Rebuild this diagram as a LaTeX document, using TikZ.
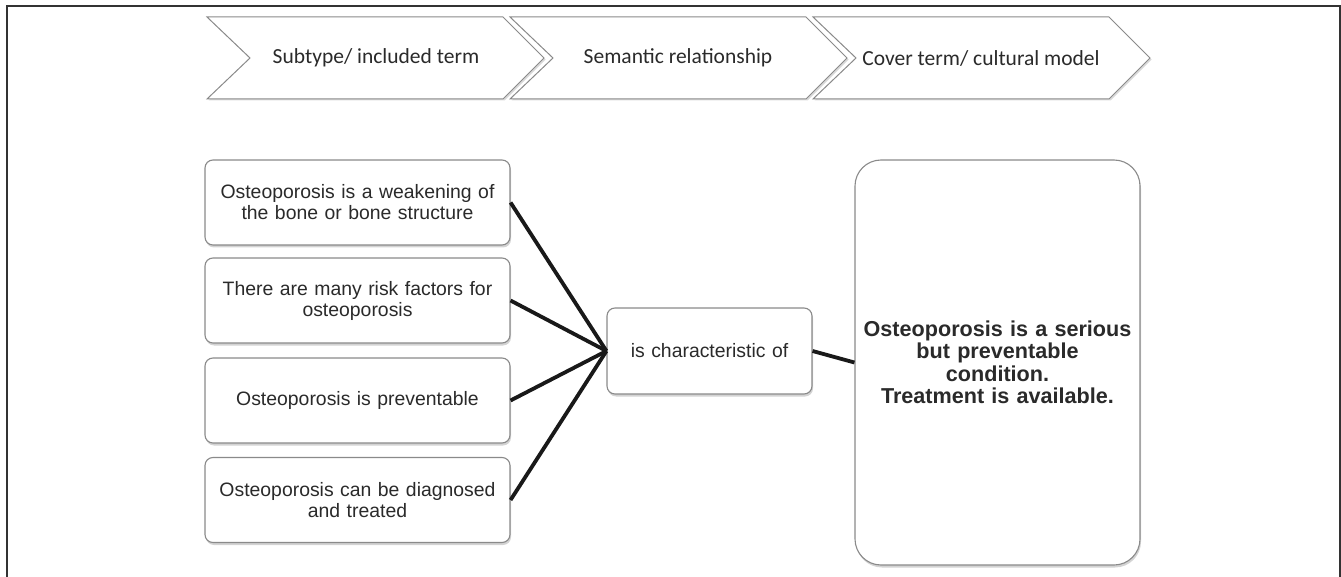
\documentclass[tikz,border=0pt]{standalone}
\usepackage{fontspec}
\setmainfont{Liberation Sans}
\newfontfamily\chevfont{Carlito}
\usepackage{tikz}
\usetikzlibrary{shadows}
\definecolor{txtgray}{HTML}{2A2A2A}
\definecolor{boxline}{HTML}{8A8A8A}

\begin{document}
\begin{tikzpicture}[x=1pt,y=-1pt]
\tikzstyle{item}=[rectangle, rounded corners=8pt, draw=boxline, line width=1.1pt, fill=white,
  drop shadow={shadow xshift=1pt, shadow yshift=-2.5pt, opacity=.35, fill=gray},
  minimum width=305pt, minimum height=85pt, inner sep=0pt, align=center, text width=295pt,
  text=txtgray, font=\fontsize{19.4}{21}\selectfont]
\tikzstyle{chev}=[draw=boxline, line width=1pt, fill=white,
  drop shadow={shadow xshift=1.5pt, shadow yshift=-1.5pt, opacity=.3, fill=gray}]
\tikzstyle{chevtext}=[text=txtgray, font=\chevfont\fontsize{21.5}{24}\selectfont]
\tikzstyle{link}=[line width=3.8pt, black!90]

\useasboundingbox (0,0) rectangle (1341,577);
% outer frame
\draw[line width=2pt, black!80] (6.5,577) -- (6.5,6.5) -- (1339.5,6.5) -- (1339.5,577);

% header chevrons
\draw[chev] (813,17) -- (1109,17) -- (1150,58) -- (1109,99) -- (813,99) -- (856,58) -- cycle;
\draw[chev] (510,17) -- (806,17) -- (847,58) -- (806,99) -- (510,99) -- (553,58) -- cycle;
\draw[chev] (207,17) -- (503,17) -- (544,58) -- (503,99) -- (207,99) -- (250,58) -- cycle;
\node[chevtext] (sub) at (376,58) {Subtype/ included term};
\node[chevtext] (sem) at (678,58) {Semantic relationship};
\node[chevtext] (cov) at (981,58) {Cover term/ cultural model};

% included terms
\node[item] (weak) at (357.5,202.5) {Osteoporosis is a weakening of\\the bone or bone structure};
\node[item] (risk) at (357.5,300.5) {There are many risk factors for\\osteoporosis};
\node[item] (prev) at (357.5,400.5) {Osteoporosis is preventable};
\node[item] (diag) at (357.5,500) {Osteoporosis can be diagnosed\\and treated};

% relationship and cover term
\node[item, minimum width=205pt, text width=195pt, minimum height=86pt] (rel) at (709.5,351) {is characteristic of};
\node[item, rounded corners=26pt, minimum width=285pt, text width=275pt, minimum height=405pt,
  font=\bfseries\fontsize{21.6}{22.5}\selectfont] (cover) at (997.5,362.5)
  {Osteoporosis is a serious\\but preventable\\condition.\\Treatment is available.};

\path[link]
(weak.east) edge (rel.west)
(risk.east) edge (rel.west)
(prev.east) edge (rel.west)
(diag.east) edge (rel.west)
(rel.east) edge (cover.west);
\end{tikzpicture}
\end{document}
